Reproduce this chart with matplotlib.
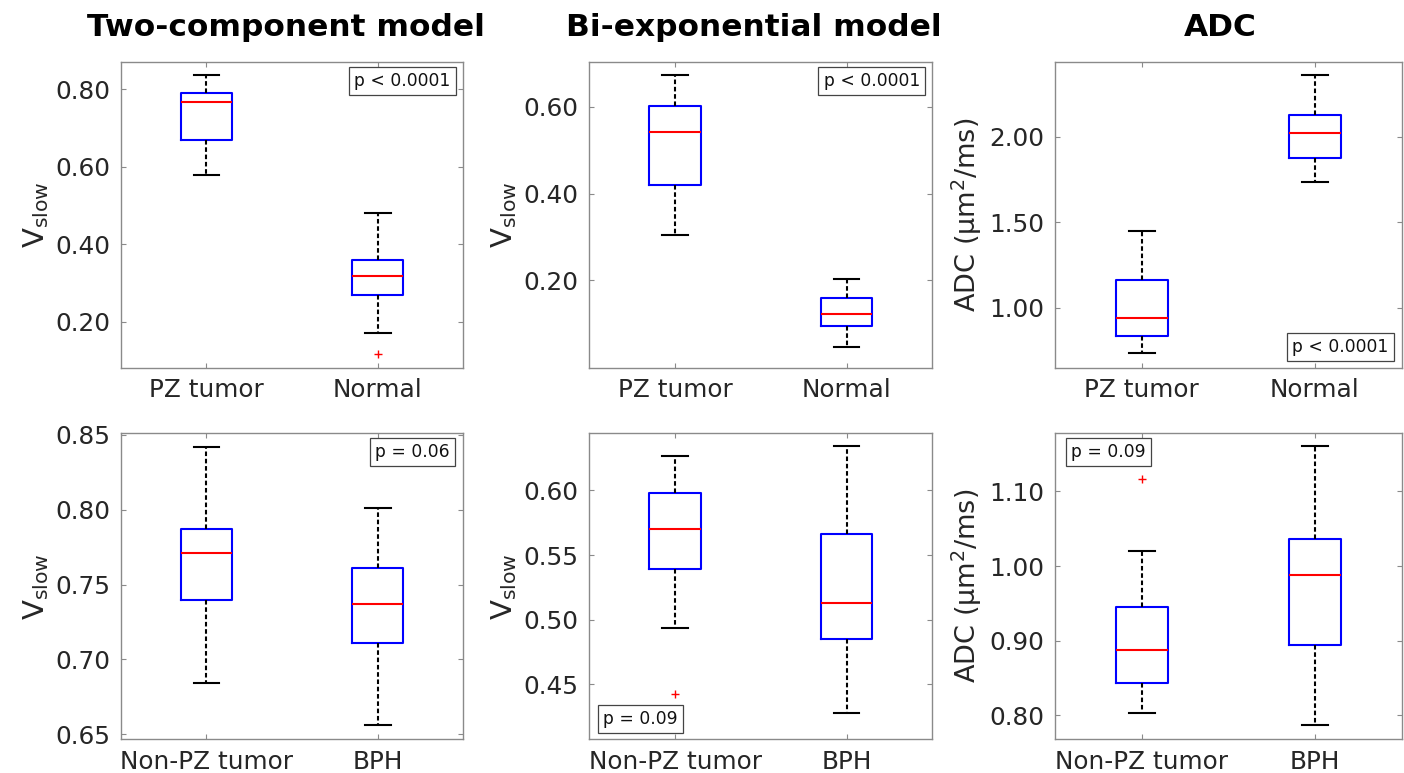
import matplotlib
matplotlib.use("Agg")
import matplotlib.pyplot as plt
from matplotlib.ticker import FormatStrFormatter

plt.rcParams['font.family'] = ['DejaVu Sans']
plt.rcParams['mathtext.default'] = 'regular'

# ---------------- data ----------------
titles = ["Two-component model", "Bi-exponential model", "ADC"]

top_groups = ["PZ tumor", "Normal"]
bottom_groups = ["Non-PZ tumor", "BPH"]

# each box: [whislo, q1, median, q3, whishi]
twocomp_top = [[0.580, 0.669, 0.768, 0.791, 0.837],
               [0.172, 0.269, 0.318, 0.360, 0.480]]
twocomp_top_fliers = [[], [0.118]]

biexp_top = [[0.305, 0.421, 0.543, 0.601, 0.674],
             [0.046, 0.096, 0.122, 0.160, 0.203]]
biexp_top_fliers = [[], []]

adc_top = [[0.732, 0.834, 0.937, 1.162, 1.449],
           [1.736, 1.879, 2.023, 2.127, 2.363]]
adc_top_fliers = [[], []]

twocomp_bot = [[0.684, 0.740, 0.771, 0.787, 0.842],
               [0.656, 0.711, 0.737, 0.761, 0.801]]
twocomp_bot_fliers = [[], []]

biexp_bot = [[0.4936, 0.539, 0.570, 0.598, 0.627],
             [0.428, 0.4848, 0.5126, 0.5667, 0.634]]
biexp_bot_fliers = [[0.443], []]

adc_bot = [[0.8027, 0.8438, 0.887, 0.9447, 1.020],
           [0.7875, 0.8937, 0.988, 1.0366, 1.161]]
adc_bot_fliers = [[1.117], []]

p_texts = ["p < 0.0001", "p < 0.0001", "p < 0.0001",
           "p = 0.06", "p = 0.09", "p = 0.09"]

yticks = [[0.20, 0.40, 0.60, 0.80],
          [0.20, 0.40, 0.60],
          [1.00, 1.50, 2.00],
          [0.65, 0.70, 0.75, 0.80, 0.85],
          [0.45, 0.50, 0.55, 0.60],
          [0.80, 0.90, 1.00, 1.10]]
ylims = [(0.082, 0.871), (-0.001, 0.704), (0.648, 2.441),
         (0.6467, 0.8511), (0.4076, 0.6442), (0.768, 1.178)]

vslow_label = "V$_{slow}$"
adc_label = "ADC (μm$^{2}$/ms)"

# ---------------- layout ----------------
W, H = 1404, 773
fig = plt.figure(figsize=(W / 100, H / 100), dpi=100)

col_left = [0.0860, 0.4197, 0.7514]
col_w = [0.2440, 0.2443, 0.2469]
row_bottom = [0.5243, 0.0436]
row_h = 0.3959

panels = [
    (twocomp_top, twocomp_top_fliers, top_groups, vslow_label),
    (biexp_top, biexp_top_fliers, top_groups, vslow_label),
    (adc_top, adc_top_fliers, top_groups, adc_label),
    (twocomp_bot, twocomp_bot_fliers, bottom_groups, vslow_label),
    (biexp_bot, biexp_bot_fliers, bottom_groups, vslow_label),
    (adc_bot, adc_bot_fliers, bottom_groups, adc_label),
]
p_pos = [(0.823, 0.9376), (0.8236, 0.9376), (0.8235, 0.0686),
         (0.851, 0.9399), (0.1487, 0.0673), (0.155, 0.9399)]
label_x = [-0.205, -0.205, -0.205, -0.205, -0.205, -0.205]
label_size = [21, 21, 19.5, 21, 21, 19.5]

tick_color = '#262626'
edge_color = '#8a8a8a'

for i, (boxes, fliers, groups, ylab) in enumerate(panels):
    r, c = divmod(i, 3)
    ax = fig.add_axes([col_left[c], row_bottom[r], col_w[c], row_h])
    stats = []
    for b, f, g in zip(boxes, fliers, groups):
        stats.append(dict(whislo=b[0], q1=b[1], med=b[2], q3=b[3],
                          whishi=b[4], fliers=f, label=g))
    ax.bxp(stats, positions=[1, 2], widths=0.3, capwidths=0.15,
           boxprops=dict(color='#0000ff', linewidth=1.5),
           medianprops=dict(color='#ff0000', linewidth=1.5),
           whiskerprops=dict(color='black', linewidth=1.5,
                             linestyle=(0, (2.2, 1.3))),
           capprops=dict(color='black', linewidth=1.5),
           flierprops=dict(marker='+', markeredgecolor='#ff0000',
                           markersize=6, markeredgewidth=1.0,
                           linestyle='none'))
    ax.set_xlim(0.5, 2.5)
    ax.set_ylim(*ylims[i])
    ax.set_yticks(yticks[i])
    ax.yaxis.set_major_formatter(FormatStrFormatter('%.2f'))
    ax.set_xticks([1, 2])
    ax.set_xticklabels(groups)
    ax.tick_params(axis='both', direction='in', length=3.5, width=0.8,
                   color=edge_color, labelcolor=tick_color, labelsize=17.8,
                   top=True, right=True, pad=7.5)
    for s in ax.spines.values():
        s.set_color(edge_color)
        s.set_linewidth(1.0)
    ax.set_ylabel(ylab, fontsize=label_size[i], color=tick_color)
    ax.yaxis.set_label_coords(label_x[i], 0.5)
    ax.text(p_pos[i][0], p_pos[i][1], p_texts[i], transform=ax.transAxes,
            ha='center', va='center', fontsize=12.3, color='#111111',
            bbox=dict(boxstyle='square,pad=0.3', fc='white',
                      ec='#444444', lw=0.9))

title_x = [285.5 / W, 753.5 / W, 1220 / W]
for t, x in zip(titles, title_x):
    fig.text(x, 1 - 36 / H, t, ha='center', va='baseline',
             fontsize=22.5, fontweight='bold', color='black')

fig.savefig('out.png', dpi=100)
